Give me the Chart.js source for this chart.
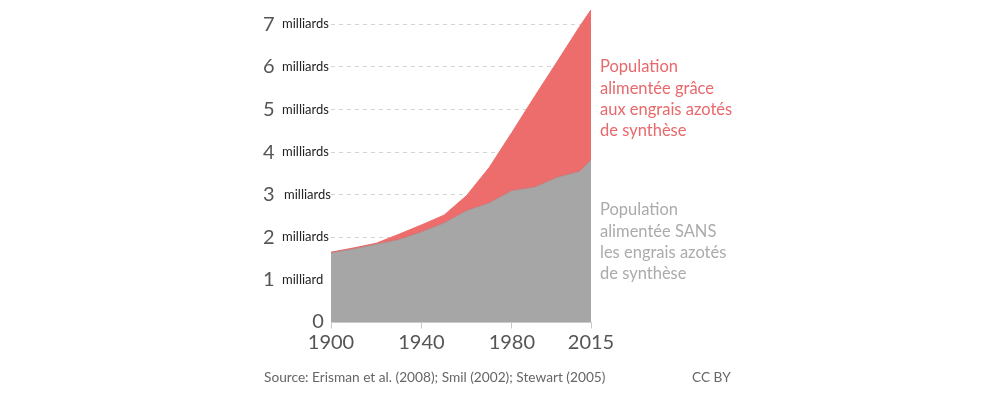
<!DOCTYPE html>
<html>
<head>
<meta charset="utf-8">
<script src="https://cdn.jsdelivr.net/npm/chart.js@4/dist/chart.umd.min.js"></script>
<style>
html,body{margin:0;padding:0;background:#fff;}
#wrap{width:1000px;height:393px;}
</style>
</head>
<body>
<div id="wrap"><canvas id="c" width="1000" height="393"></canvas></div>
<script>
// Years (x values)
const years = [1900, 1910, 1920, 1930, 1940, 1950, 1960, 1970, 1980, 1990, 2000, 2010, 2015];
// Population fed WITHOUT synthetic nitrogen fertilizer (billions)
const sansEngrais = [1.64, 1.73, 1.84, 1.95, 2.13, 2.34, 2.63, 2.81, 3.10, 3.18, 3.41, 3.55, 3.82];
// Total world population (billions) = top of the red area
const populationTotale = [1.65, 1.75, 1.86, 2.07, 2.29, 2.52, 2.98, 3.64, 4.46, 5.30, 6.12, 6.95, 7.34];
// Tick values and labels
const xTicks = [1900, 1940, 1980, 2015];
const yTicks = [0, 1, 2, 3, 4, 5, 6, 7];
const yUnitLabels = ['', 'milliard', 'milliards', 'milliards', 'milliards', 'milliards', 'milliards', 'milliards'];
const labelAvec = ['Population', 'alimentée grâce', 'aux engrais azotés', 'de synthèse'];
const labelSans = ['Population', 'alimentée SANS', 'les engrais azotés', 'de synthèse'];
const sourceText = 'Source: Erisman et al. (2008); Smil (2002); Stewart (2005)';
const licenceText = 'CC BY';

const RED = '#ED6D6D';
const GRAY = '#A6A6A6';
const FONT = 'Lato, "Open Sans", sans-serif';

const toPts = (arr) => years.map((y, i) => ({x: y, y: arr[i]}));

const annotations = {
  id: 'annotations',
  afterDraw(chart) {
    const ctx = chart.ctx;
    const ys = chart.scales.y;
    const xs = chart.scales.x;
    ctx.save();
    // unit labels beside the y ticks
    ctx.font = '13px ' + FONT;
    ctx.fillStyle = '#222';
    ctx.textAlign = 'left';
    ctx.textBaseline = 'middle';
    yTicks.forEach((v, i) => {
      if (!yUnitLabels[i]) return;
      const py = ys.getPixelForValue(v);
      ctx.fillText(yUnitLabels[i], v === 3 ? 284 : 282, py);
    });
    // zero label near the axis
    ctx.font = '20px ' + FONT;
    ctx.fillStyle = '#555';
    ctx.textAlign = 'center';
    ctx.fillText('0', xs.left - 13, ys.getPixelForValue(0) - 1);
    // series labels on the right
    ctx.font = '16.5px ' + FONT;
    ctx.textAlign = 'left';
    ctx.fillStyle = '#E8696B';
    labelAvec.forEach((t, i) => ctx.fillText(t, xs.right + 9, 67 + i * 21.3));
    ctx.fillStyle = '#ABABAB';
    labelSans.forEach((t, i) => ctx.fillText(t, xs.right + 9, 210 + i * 21.2));
    // source line
    ctx.font = '13.7px ' + FONT;
    ctx.fillStyle = '#666';
    ctx.fillText(sourceText, 264, 378);
    ctx.fillText(licenceText, 692, 378);
    ctx.restore();
  }
};

new Chart(document.getElementById('c'), {
  type: 'line',
  data: {
    datasets: [
      {
        label: 'Population alimentée SANS les engrais azotés de synthèse',
        data: toPts(sansEngrais),
        backgroundColor: GRAY,
        borderColor: 'rgba(190,110,110,0.7)',
        borderWidth: 1,
        fill: 'origin',
        pointRadius: 0,
        tension: 0
      },
      {
        label: 'Population alimentée grâce aux engrais azotés de synthèse',
        data: toPts(populationTotale),
        backgroundColor: RED,
        borderColor: RED,
        borderWidth: 1,
        fill: '-1',
        pointRadius: 0,
        tension: 0
      }
    ]
  },
  options: {
    responsive: false,
    animation: false,
    layout: {padding: {left: 263, right: 409, top: 3, bottom: 0}},
    plugins: {legend: {display: false}, tooltip: {enabled: false}},
    scales: {
      x: {
        type: 'linear',
        min: 1900,
        max: 2015,
        afterBuildTicks: (s) => { s.ticks = xTicks.map(v => ({value: v})); },
        afterFit: (s) => { s.height = 70.5; },
        grid: {drawOnChartArea: false, drawTicks: true, tickLength: 6, color: '#c8c8c8'},
        border: {display: true, color: '#d0d0d0'},
        ticks: {
          autoSkip: false, maxRotation: 0, padding: 2,
          font: {family: FONT, size: 20}, color: '#555',
          callback: (v) => String(v)
        }
      },
      y: {
        min: 0,
        max: 7.5,
        afterBuildTicks: (s) => { s.ticks = yTicks.map(v => ({value: v})); },
        afterFit: (s) => { s.width = 68; },
        grid: {drawTicks: false, color: '#d4d4d4'},
        border: {display: false, dash: [4, 4]},
        ticks: {
          padding: 0,
          crossAlign: 'far',
          font: {family: FONT, size: 20, lineHeight: 0.2}, color: '#555',
          callback: (v) => v === 0 ? '' : String(v)
        }
      }
    }
  },
  plugins: [annotations]
});
</script>
</body>
</html>
